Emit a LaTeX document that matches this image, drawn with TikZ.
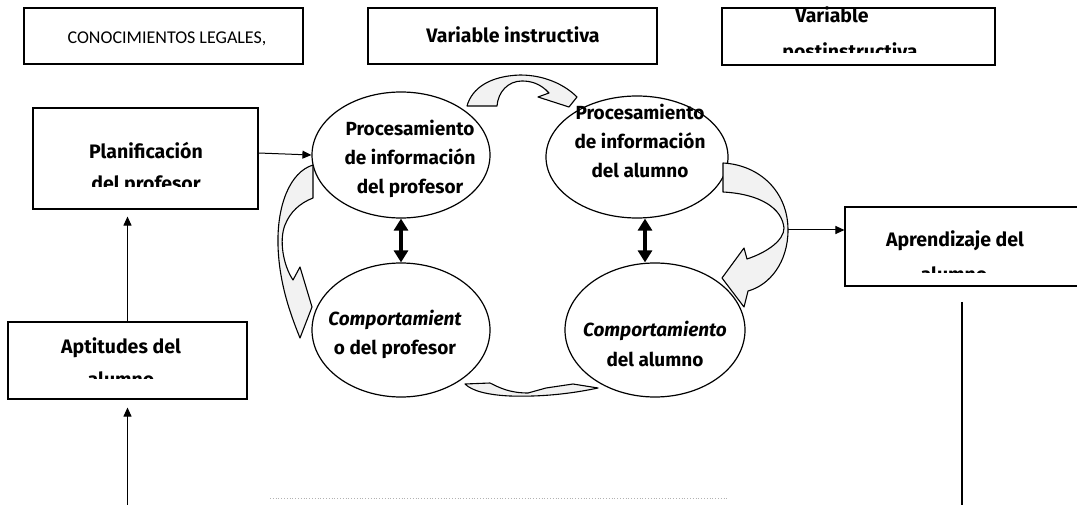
\documentclass[tikz,border=0pt]{standalone}
\usepackage{fontspec}
\setmainfont{Fira Sans}
\newfontfamily\calfont{Carlito}
\usetikzlibrary{arrows.meta, positioning, shapes.geometric}

\begin{document}
\begin{tikzpicture}[
  x=1pt, y=-1pt,
  box/.style={draw, line width=1.1pt, inner sep=0pt},
  oval/.style={draw, ellipse, line width=1.2pt, inner sep=0pt},
  boxtxt/.style={font=\bfseries\fontsize{19.5}{30}\selectfont, anchor=base, inner sep=0pt},
  ovaltxt/.style={font=\bfseries\fontsize{19}{29}\selectfont, align=center, anchor=base, inner sep=0pt},
  arrow/.style={-{Triangle[length=9pt, width=8pt]}, line width=1pt},
  dblarrow/.style={{Triangle[length=12pt, width=14pt]}-{Triangle[length=12pt, width=14pt]}, line width=4pt},
  curvearrow/.style={draw, line width=1.1pt, fill=gray!10, line join=round}
]
  \fill[white] (0,0) rectangle (1077,505);
  \useasboundingbox (0,0) rectangle (1077,505);

  % header boxes
  \node[box, minimum width=279pt, minimum height=56pt] (conoc) at (163.5,36) {};
  \node[font=\calfont\fontsize{18}{20}\selectfont, anchor=base, inner sep=0pt] (conoctxt) at (167,43.5) {CONOCIMIENTOS LEGALES,};
  \node[box, minimum width=289pt, minimum height=56pt] (varinst) at (512.5,36) {};
  \node[boxtxt] (varinsttxt) at (513,43) {Variable instructiva};
  \node[box, minimum width=273pt, minimum height=57pt] (varpost) at (858.5,36.5) {};
  \node[boxtxt] (varpost-a) at (832,22.5) {Variable};
  \begin{scope}
    \clip (722,8) rectangle (995,53);
    \node[boxtxt] (varpost-b) at (850,59) {postinstructiva};
  \end{scope}

  % side boxes
  \node[box, minimum width=225pt, minimum height=101pt] (plan) at (145.5,158.5) {};
  \node[boxtxt] (plan-a) at (146,159) {Planificación};
  \begin{scope}
    \clip (33,108) rectangle (258,187);
    \node[boxtxt] (plan-b) at (146,191) {del profesor};
  \end{scope}
  \node[box, minimum width=239pt, minimum height=77pt] (apt) at (127.5,360.5) {};
  \node[boxtxt] (apt-a) at (121,353) {Aptitudes del};
  \begin{scope}
    \clip (8,322) rectangle (247,378);
    \node[boxtxt] (apt-b) at (121,386) {alumno};
  \end{scope}
  \node[box, minimum width=240pt, minimum height=79pt] (apr) at (965,246.5) {};
  \node[boxtxt] (apr-a) at (955,247) {Aprendizaje del};
  \begin{scope}
    \clip (845,207) rectangle (1077,273);
    \node[boxtxt] (apr-b) at (954,282) {alumno};
  \end{scope}

  % ellipses
  \node[oval, minimum width=178pt, minimum height=126pt] (procprof) at (401,155) {};
  \node[ovaltxt] (procproftxt) at (410,194) {Procesamiento\\de información\\del profesor};
  \node[oval, minimum width=182pt, minimum height=122pt] (procalum) at (637,157) {};
  \node[ovaltxt] (procalumtxt) at (640,178) {Procesamiento\\de información\\del alumno};
  \node[oval, minimum width=178pt, minimum height=134pt] (compprof) at (401,330) {};
  \node[ovaltxt] (compproftxt) at (395,354) {{\itshape Comportamient}\\o del profesor};
  \node[oval, minimum width=180pt, minimum height=134pt] (compalum) at (655,330) {};
  \node[ovaltxt] (compalumtxt) at (655,366) {{\itshape Comportamiento}\\del alumno};

  % straight arrows
  \draw[arrow] ([yshift=5.5pt]plan.east) -- (procprof.west);
  \draw[arrow] (apt.north) -- ([yshift=-7pt]apt.north |- plan.south);
  \coordinate (aptin) at (127.5,505);
  \draw[arrow] (aptin) -- ([yshift=-8pt]aptin |- apt.south);
  \coordinate (outfoot) at (787,230);
  \draw[arrow] (outfoot) -- (outfoot -| apr.west);
  \coordinate (rtop) at (962,302);
  \coordinate (rbot) at (962,505);
  \draw[line width=1.6pt] (rtop) -- (rbot);
  \draw[dblarrow] (procprof) -- (compprof);
  \draw[dblarrow] ([xshift=8pt]procalum.south) -- ([xshift=-10pt]compalum.north);

  % curved block arrows
  \path[curvearrow] (467,106) .. controls (472,88) and (490,76) .. (520,75) .. controls (545,75) and (565,85) .. (577,97) -- (569,107) -- (538,97) -- (549,93) .. controls (540,83) and (530,81) .. (522,81) .. controls (508,81) and (498,92) .. (497,106) -- cycle;
  \path[curvearrow] (313,165) .. controls (290,172) and (277,205) .. (278,245) .. controls (279,285) and (292,318) .. (300,338) -- (312,307) -- (300,267) -- (293,280) .. controls (283,265) and (279,240) .. (285,225) .. controls (290,212) and (300,203) .. (313,198) -- cycle;
  \path[curvearrow] (723,163) .. controls (760,165) and (788,192) .. (788,230) .. controls (788,262) and (770,285) .. (748,291) -- (744,307) -- (722,278) -- (744,248) -- (747,259) .. controls (768,252) and (784,240) .. (784,228) .. controls (782,208) and (760,194) .. (723,192) -- cycle;
  \path[curvearrow] (465,384) -- (490,383) .. controls (500,388) and (510,393) .. (528,393) -- (546,388) -- (573,384) -- (598,388) .. controls (570,394) and (540,397) .. (510,396) .. controls (488,395) and (472,391) .. (465,384) -- cycle;

  % scan trace
  \draw[gray!60, dotted, line width=0.8pt] (270,498) -- (727,498);
\end{tikzpicture}
\end{document}
